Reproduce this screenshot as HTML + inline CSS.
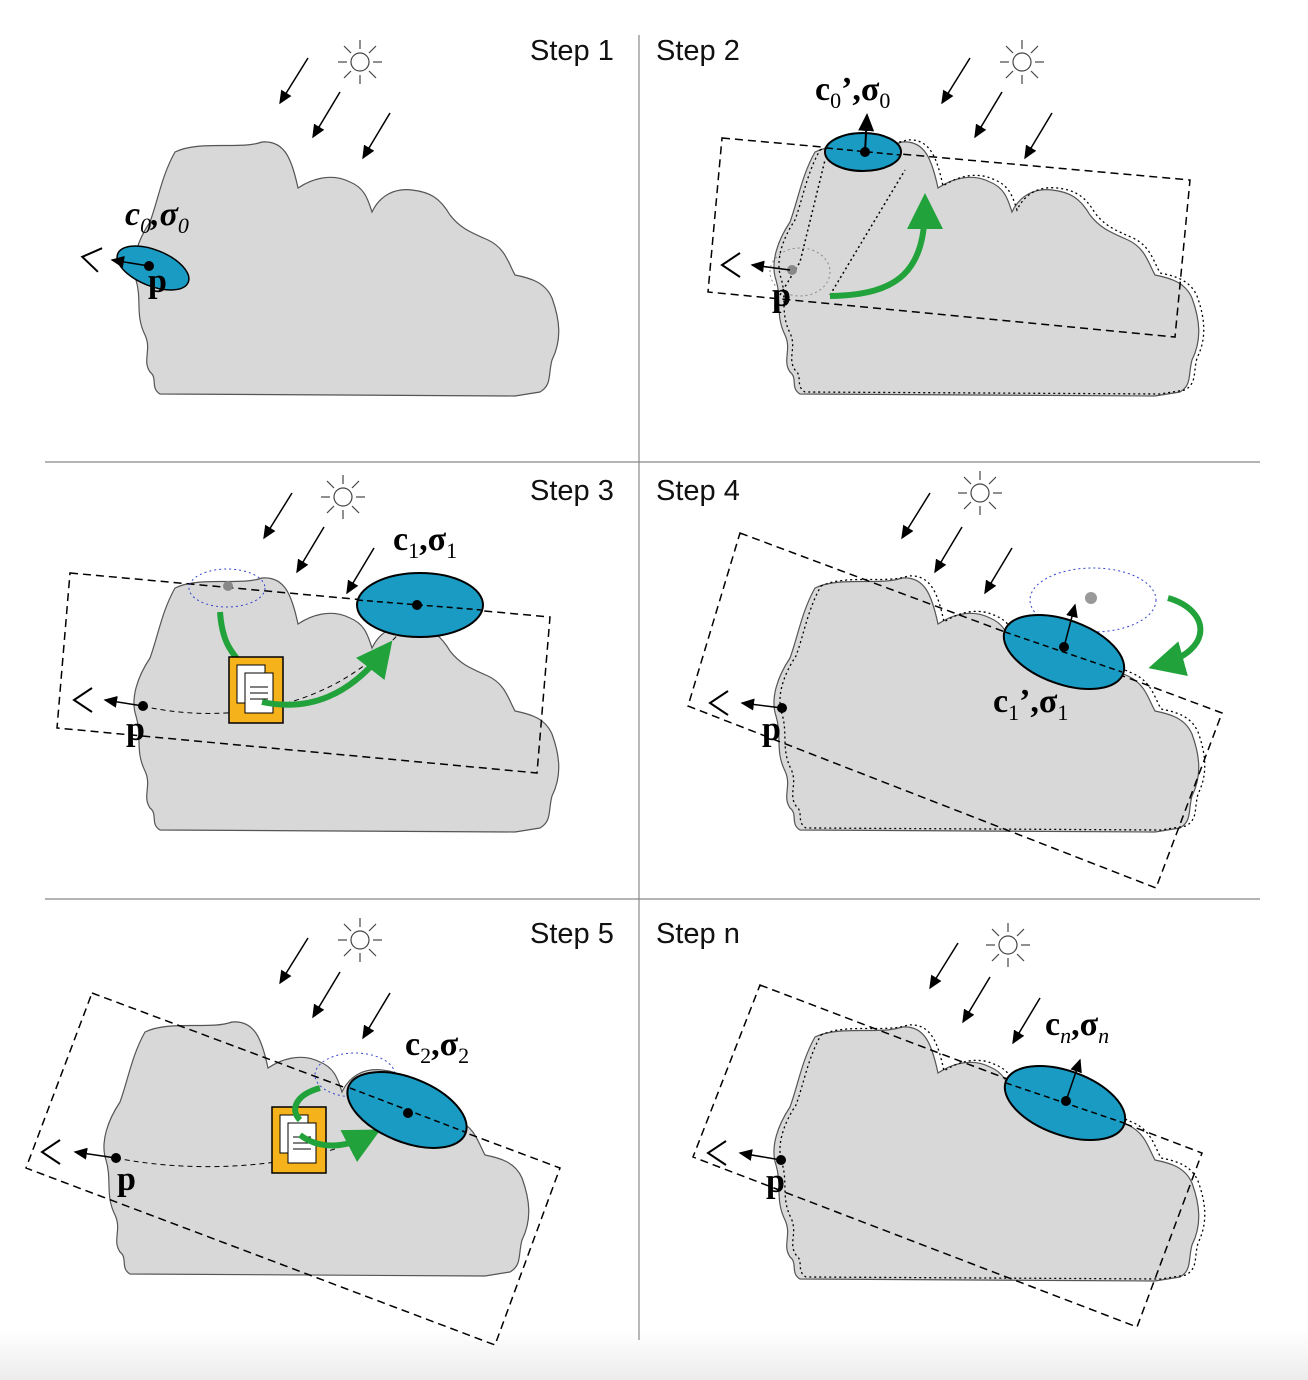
<!DOCTYPE html>
<html><head><meta charset="utf-8"><style>
html,body{margin:0;padding:0;background:#fff;}
svg{display:block;}
.step{font-family:"Liberation Sans","DejaVu Sans",sans-serif;font-size:29px;fill:#111;}
.lab{font-family:"Liberation Serif",serif;font-weight:bold;font-size:34px;fill:#000;}
.sub{font-size:22px;font-weight:normal;}
</style></head><body>
<svg width="1308" height="1380" viewBox="0 0 1308 1380">
<defs>
<linearGradient id="bot" x1="0" y1="0" x2="0" y2="1"><stop offset="0" stop-color="#fff"/><stop offset="1" stop-color="#ececec"/></linearGradient>
<path id="cloud" d="M175,152 C200,140 240,150 262,142 C285,140 292,160 298,188 C310,180 330,172 350,182 C365,188 368,200 372,212 C380,195 395,188 412,190 C430,192 440,198 450,215 C460,228 470,232 488,240 C505,248 508,262 515,275 C530,278 545,282 552,298 C560,320 562,340 552,360 C548,375 552,385 540,392 L515,396 L160,394 C150,388 158,378 150,372 C142,360 152,350 145,335 C135,315 142,300 136,280 C130,262 138,240 150,222 C158,200 162,175 175,152 Z"/>
<marker id="ah" markerWidth="10" markerHeight="10" refX="8" refY="5" orient="auto"><path d="M0,1 L9,5 L0,9 Z" fill="#000"/></marker>
<marker id="gh" markerWidth="6" markerHeight="6" refX="4" refY="3" orient="auto"><path d="M0,0 L6,3 L0,6 Z" fill="#22a23a"/></marker>
<g id="sun"><circle r="9" fill="none" stroke="#444" stroke-width="1.2"/>
<g stroke="#444" stroke-width="1.2"><line x1="13" y1="0" x2="22" y2="0"/><line x1="-13" y1="0" x2="-22" y2="0"/><line x1="0" y1="13" x2="0" y2="22"/><line x1="0" y1="-13" x2="0" y2="-22"/><line x1="9" y1="9" x2="16" y2="16"/><line x1="-9" y1="9" x2="-16" y2="16"/><line x1="9" y1="-9" x2="16" y2="-16"/><line x1="-9" y1="-9" x2="-16" y2="-16"/></g></g>
<g id="rays" stroke="#000" stroke-width="1.5"><line x1="308" y1="58" x2="280" y2="103" marker-end="url(#ah)"/><line x1="340" y1="92" x2="313" y2="137" marker-end="url(#ah)"/><line x1="390" y1="113" x2="363" y2="158" marker-end="url(#ah)"/></g>
<g id="doc"><rect x="0" y="0" width="54" height="66" fill="#f6b21a" stroke="#000" stroke-width="1.5"/><rect x="8" y="8" width="28" height="38" fill="#fff" stroke="#000"/><rect x="16" y="16" width="28" height="40" fill="#fff" stroke="#000"/><g stroke="#000"><line x1="21" y1="30" x2="39" y2="30"/><line x1="21" y1="36" x2="39" y2="36"/><line x1="21" y1="42" x2="39" y2="42"/></g></g>
<g id="eye" fill="none" stroke="#000" stroke-width="2"><path d="M0,-12 L-18,0 L0,12"/></g>
</defs>
<rect x="0" y="1330" width="1308" height="50" fill="url(#bot)"/>
<g stroke="#888" stroke-width="1.2">
<line x1="639" y1="35" x2="639" y2="1340"/><line x1="45" y1="462" x2="1260" y2="462"/><line x1="45" y1="899" x2="1260" y2="899"/></g>

<!-- Step 1 -->
<g>
<text class="step" x="530" y="60">Step 1</text>
<use href="#sun" x="360" y="62"/><use href="#rays"/>
<use href="#cloud" fill="#d8d8d8" stroke="#555" stroke-width="1.2"/>
<ellipse cx="153" cy="268" rx="38" ry="18" transform="rotate(22 153 268)" fill="#1a9bc4" stroke="#000" stroke-width="1.5"/>
<circle cx="149" cy="266" r="5" fill="#000"/>
<line x1="149" y1="266" x2="112" y2="260" stroke="#000" stroke-width="1.5" marker-end="url(#ah)"/>
<use href="#eye" x="100" y="260" transform="rotate(10 100 260)"/>
<text class="lab" x="148" y="292">p</text>
<text class="lab" x="125" y="225" font-style="italic">c<tspan class="sub" dy="8">0</tspan><tspan dy="-8">,σ</tspan><tspan class="sub" dy="8">0</tspan></text>
</g>

<!-- Step 2 -->
<g>
<text class="step" x="656" y="60">Step 2</text>
<use href="#sun" x="1022" y="62"/><use href="#rays" x="662" y="0"/>
<use href="#cloud" x="640" y="0" fill="#d8d8d8" stroke="#555" stroke-width="1.2"/>
<use href="#cloud" x="645" y="-2" fill="none" stroke="#000" stroke-dasharray="2,3" stroke-width="1.3"/>
<polygon points="722,138 1190,180 1175,337 708,292" fill="none" stroke="#000" stroke-dasharray="8,5" stroke-width="1.5"/>
<path d="M780,295 L800,262 L825,160 M830,295 L905,170" stroke="#000" stroke-dasharray="2,3" fill="none" stroke-width="1.5"/>
<ellipse cx="800" cy="272" rx="30" ry="24" fill="none" stroke="#888" stroke-dasharray="2,3"/>
<circle cx="792" cy="270" r="5" fill="#888"/>
<path d="M830,296 C900,295 925,270 925,205" stroke="#22a23a" stroke-width="6" fill="none" marker-end="url(#gh)"/>
<ellipse cx="863" cy="152" rx="38" ry="19" fill="#1a9bc4" stroke="#000" stroke-width="2"/>
<line x1="827" y1="148" x2="900" y2="155" stroke="#000" stroke-dasharray="6,4" stroke-width="1.5"/>
<circle cx="865" cy="152" r="5" fill="#000"/>
<line x1="865" y1="152" x2="867" y2="115" stroke="#000" stroke-width="2" marker-end="url(#ah)"/>
<line x1="790" y1="270" x2="752" y2="265" stroke="#000" stroke-width="1.5" marker-end="url(#ah)"/>
<use href="#eye" x="740" y="265"/>
<text class="lab" x="772" y="306">p</text>
<text class="lab" x="815" y="100">c<tspan class="sub" dy="8">0</tspan><tspan dy="-8">’,σ</tspan><tspan class="sub" dy="8">0</tspan></text>
</g>

<!-- Step 3 -->
<g>
<text class="step" x="530" y="500">Step 3</text>
<use href="#sun" x="343" y="497"/><use href="#rays" x="-16" y="435"/>
<use href="#cloud" x="0" y="436" fill="#d8d8d8" stroke="#555" stroke-width="1.2"/>
<polygon points="70,573 550,617 537,773 57,728" fill="none" stroke="#000" stroke-dasharray="8,5" stroke-width="1.5"/>
<ellipse cx="227" cy="588" rx="38" ry="19" fill="none" stroke="#3344cc" stroke-dasharray="2,3"/>
<circle cx="228" cy="586" r="5" fill="#888"/>
<path d="M143,706 C200,720 330,725 410,620" stroke="#000" stroke-dasharray="5,4" fill="none"/>
<path d="M220,612 C222,640 230,650 238,660" stroke="#22a23a" stroke-width="6" fill="none"/>
<use href="#doc" x="229" y="657"/>
<path d="M262,702 C310,712 350,695 385,650" stroke="#22a23a" stroke-width="6" fill="none" marker-end="url(#gh)"/>
<ellipse cx="420" cy="605" rx="63" ry="32" fill="#1a9bc4" stroke="#000" stroke-width="2"/>
<line x1="357" y1="600" x2="482" y2="610" stroke="#000" stroke-dasharray="6,4" stroke-width="1.5"/>
<circle cx="417" cy="605" r="5" fill="#000"/>
<circle cx="143" cy="706" r="5" fill="#000"/>
<line x1="143" y1="706" x2="105" y2="700" stroke="#000" stroke-width="1.5" marker-end="url(#ah)"/>
<use href="#eye" x="92" y="700"/>
<text class="lab" x="126" y="740">p</text>
<text class="lab" x="393" y="550">c<tspan class="sub" dy="8">1</tspan><tspan dy="-8">,σ</tspan><tspan class="sub" dy="8">1</tspan></text>
</g>

<!-- Step 4 -->
<g>
<text class="step" x="656" y="500">Step 4</text>
<use href="#sun" x="980" y="493"/><use href="#rays" x="622" y="435"/>
<use href="#cloud" x="640" y="436" fill="#d8d8d8" stroke="#555" stroke-width="1.2"/>
<use href="#cloud" x="646" y="434" fill="none" stroke="#000" stroke-dasharray="2,3" stroke-width="1.3"/>
<polygon points="740,533 1222,713 1156,888 688,706" fill="none" stroke="#000" stroke-dasharray="8,5" stroke-width="1.5"/>
<ellipse cx="1093" cy="600" rx="63" ry="32" fill="none" stroke="#3344cc" stroke-dasharray="2,3"/>
<circle cx="1091" cy="598" r="6" fill="#999"/>
<path d="M1168,598 C1210,610 1215,650 1160,665" stroke="#22a23a" stroke-width="6" fill="none" marker-end="url(#gh)"/>
<ellipse cx="1064" cy="652" rx="63" ry="32" transform="rotate(20 1064 652)" fill="#1a9bc4" stroke="#000" stroke-width="2"/>
<line x1="1005" y1="632" x2="1122" y2="672" stroke="#000" stroke-dasharray="6,4" stroke-width="1.5"/>
<circle cx="1064" cy="647" r="5" fill="#000"/>
<line x1="1064" y1="647" x2="1075" y2="605" stroke="#000" stroke-width="1.5" marker-end="url(#ah)"/>
<circle cx="782" cy="708" r="5" fill="#000"/>
<line x1="782" y1="708" x2="742" y2="703" stroke="#000" stroke-width="1.5" marker-end="url(#ah)"/>
<use href="#eye" x="728" y="703"/>
<text class="lab" x="762" y="740">p</text>
<text class="lab" x="993" y="712">c<tspan class="sub" dy="8">1</tspan><tspan dy="-8">’,σ</tspan><tspan class="sub" dy="8">1</tspan></text>
</g>

<!-- Step 5 -->
<g>
<text class="step" x="530" y="943">Step 5</text>
<use href="#sun" x="360" y="940"/><use href="#rays" x="0" y="880"/>
<use href="#cloud" x="-30" y="880" fill="#d8d8d8" stroke="#555" stroke-width="1.2"/>
<polygon points="92,993 560,1168 495,1345 26,1168" fill="none" stroke="#000" stroke-dasharray="8,5" stroke-width="1.5"/>
<ellipse cx="355" cy="1075" rx="40" ry="22" fill="none" stroke="#3344cc" stroke-dasharray="2,3"/>
<path d="M116,1158 C200,1175 330,1170 405,1115" stroke="#000" stroke-dasharray="5,4" fill="none"/>
<use href="#doc" x="272" y="1107"/>
<path d="M320,1088 C295,1095 290,1110 300,1120 M300,1135 C320,1150 345,1148 370,1135" stroke="#22a23a" stroke-width="6" fill="none" marker-end="url(#gh)"/>
<ellipse cx="407" cy="1110" rx="63" ry="32" transform="rotate(22 407 1110)" fill="#1a9bc4" stroke="#000" stroke-width="2"/>
<line x1="350" y1="1088" x2="465" y2="1132" stroke="#000" stroke-dasharray="6,4" stroke-width="1.5"/>
<circle cx="408" cy="1113" r="5" fill="#000"/>
<circle cx="116" cy="1158" r="5" fill="#000"/>
<line x1="116" y1="1158" x2="75" y2="1152" stroke="#000" stroke-width="1.5" marker-end="url(#ah)"/>
<use href="#eye" x="60" y="1152"/>
<text class="lab" x="117" y="1190">p</text>
<text class="lab" x="405" y="1055">c<tspan class="sub" dy="8">2</tspan><tspan dy="-8">,σ</tspan><tspan class="sub" dy="8">2</tspan></text>
</g>

<!-- Step n -->
<g>
<text class="step" x="656" y="943">Step n</text>
<use href="#sun" x="1008" y="945"/><use href="#rays" x="650" y="885"/>
<use href="#cloud" x="640" y="885" fill="#d8d8d8" stroke="#555" stroke-width="1.2"/>
<use href="#cloud" x="646" y="883" fill="none" stroke="#000" stroke-dasharray="2,3" stroke-width="1.3"/>
<polygon points="760,985 1202,1153 1137,1327 693,1157" fill="none" stroke="#000" stroke-dasharray="8,5" stroke-width="1.5"/>
<ellipse cx="1065" cy="1103" rx="63" ry="32" transform="rotate(20 1065 1103)" fill="#1a9bc4" stroke="#000" stroke-width="2"/>
<line x1="1006" y1="1083" x2="1124" y2="1123" stroke="#000" stroke-dasharray="6,4" stroke-width="1.5"/>
<circle cx="1066" cy="1101" r="5" fill="#000"/>
<line x1="1066" y1="1101" x2="1080" y2="1060" stroke="#000" stroke-width="1.5" marker-end="url(#ah)"/>
<circle cx="781" cy="1160" r="5" fill="#000"/>
<line x1="781" y1="1160" x2="740" y2="1153" stroke="#000" stroke-width="1.5" marker-end="url(#ah)"/>
<use href="#eye" x="726" y="1153"/>
<text class="lab" x="766" y="1192">p</text>
<text class="lab" x="1045" y="1035">c<tspan class="sub" dy="8" font-style="italic">n</tspan><tspan dy="-8">,σ</tspan><tspan class="sub" dy="8" font-style="italic">n</tspan></text>
</g>
</svg>
</body></html>
